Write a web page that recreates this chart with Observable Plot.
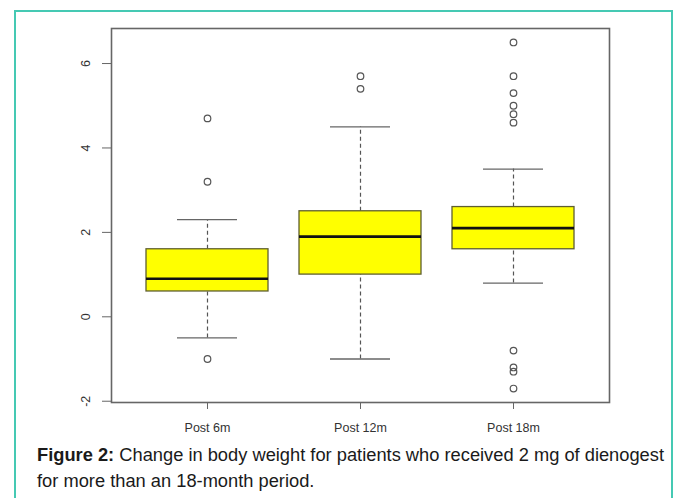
<!DOCTYPE html>
<html><head><meta charset="utf-8">
<script src="https://cdn.jsdelivr.net/npm/d3@7"></script>
<script src="https://cdn.jsdelivr.net/npm/@observablehq/plot@0.6"></script>
<style>
html,body{margin:0;padding:0;background:#fff;width:681px;height:498px;overflow:hidden;font-family:"Liberation Sans",Arial,sans-serif;}
#frame{position:absolute;left:14px;top:10px;width:659px;height:500px;border:2px solid #45c9b3;border-bottom:none;box-sizing:border-box;}
#chart{position:absolute;left:0;top:0;}
#caption{position:absolute;left:37px;top:442px;white-space:nowrap;font-size:18.3px;line-height:26px;color:#1a1a1a;}
</style></head><body>
<div id="frame"></div>
<div id="chart"></div>
<div id="caption"><b>Figure 2:</b> Change in body weight for patients who received 2 mg of dienogest<br>for more than an 18-month period.</div>
<script>
const categories = ["Post 6m", "Post 12m", "Post 18m"];
const q1 = [0.6, 1.0, 1.6];
const median = [0.9, 1.9, 2.1];
const q3 = [1.6, 2.5, 2.6];
const whiskerLow = [-0.5, -1.0, 0.8];
const whiskerHigh = [2.3, 4.5, 3.5];
const outlierGroup = ["Post 6m", "Post 6m", "Post 6m",
  "Post 12m", "Post 12m",
  "Post 18m", "Post 18m", "Post 18m", "Post 18m", "Post 18m", "Post 18m",
  "Post 18m", "Post 18m", "Post 18m", "Post 18m"];
const outlierValue = [4.7, 3.2, -1.0,
  5.7, 5.4,
  6.5, 5.7, 5.3, 5.0, 4.8, 4.6,
  -0.8, -1.2, -1.3, -1.7];
const yTicks = [-2, 0, 2, 4, 6];

const rows = categories.map((c, i) => ({cat: c, q1: q1[i], med: median[i], q3: q3[i], lo: whiskerLow[i], hi: whiskerHigh[i]}));
const outs = outlierGroup.map((g, i) => ({cat: g, v: outlierValue[i]}));

const chart = Plot.plot({
  width: 681, height: 440,
  marginLeft: 111, marginRight: 72, marginTop: 28, marginBottom: 38,
  style: {fontFamily: "'Liberation Sans', Arial, sans-serif", fontSize: "12px", color: "#333", background: "transparent"},
  x: {domain: categories, paddingInner: 0.2, paddingOuter: 0.22},
  y: {domain: [-2.03, 6.83]},
  marks: [
    Plot.ruleX(rows, {x: "cat", y1: "q3", y2: "hi", stroke: "#555", strokeWidth: 1.2, strokeDasharray: "4,3"}),
    Plot.ruleX(rows, {x: "cat", y1: "lo", y2: "q1", stroke: "#555", strokeWidth: 1.2, strokeDasharray: "4,3"}),
    Plot.tickY(rows, {x: "cat", y: "hi", insetLeft: 31, insetRight: 31, stroke: "#666", strokeWidth: 1.3}),
    Plot.tickY(rows, {x: "cat", y: "lo", insetLeft: 31, insetRight: 31, stroke: "#666", strokeWidth: 1.3}),
    Plot.barY(rows, {x: "cat", y1: "q1", y2: "q3", fill: "#ffff00", stroke: "#5f5f30", strokeWidth: 1.3}),
    Plot.tickY(rows, {x: "cat", y: "med", stroke: "#111", strokeWidth: 2.6}),
    Plot.dot(outs, {x: "cat", y: "v", r: 3.3, stroke: "#555", strokeWidth: 1.2, fill: "none"}),
    Plot.frame({stroke: "#666", strokeWidth: 1.6}),
    Plot.axisY(yTicks, {tickSize: 9, tickRotate: -90, tickPadding: 13, tickFormat: d => String(d), stroke: "#666", fill: "#333", fontSize: 12.5, label: null}),
    Plot.axisX({tickSize: 7, tickPadding: 14, stroke: "#666", fill: "#333", fontSize: 12.5, label: null})
  ]
});
document.getElementById("chart").appendChild(chart);
</script>
</body></html>
